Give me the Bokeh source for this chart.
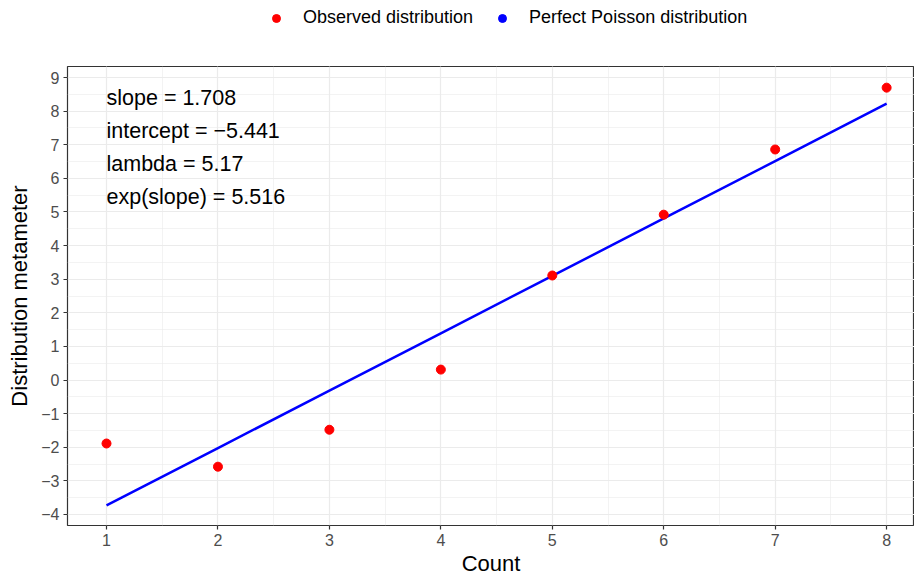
from bokeh.plotting import figure
from bokeh.layouts import column
from bokeh.models import (Range1d, SingleIntervalTicker, CustomJSTickFormatter,
                          Legend, LegendItem)
from bokeh.core.properties import value
from bokeh.embed import file_html
from bokeh.resources import INLINE

# Observed Poisson metameter per count, and the fitted line parameters
counts = [1, 2, 3, 4, 5, 6, 7, 8]
observed = [-1.89, -2.58, -1.48, 0.31, 3.11, 4.92, 6.86, 8.70]
slope = 1.708
intercept = -5.441
lam = 5.17
exp_slope = 5.516

series_labels = ["Observed distribution", "Perfect Poisson distribution"]
series_colors = ["red", "blue"]

fitted = [intercept + slope * c for c in counts]

FONT = "Liberation Sans"
MINUS = "\u2212"
W = 914
LEG_H = 65
MAIN_H = 578 - LEG_H

# ---- legend strip above the panel ----
leg = figure(width=W, height=LEG_H, x_range=Range1d(0, 1), y_range=Range1d(0, 1),
             x_axis_type=None, y_axis_type=None,
             output_backend="svg", toolbar_location=None,
             min_border=0)
leg.outline_line_color = None
leg.xgrid.visible = False
leg.ygrid.visible = False
# key renderers sit outside the strip's visible range; they only feed the legend
keys = [leg.scatter(x=[-10], y=[-10], size=9, fill_color=c, line_color=c)
        for c in series_colors]
legend = Legend(items=[LegendItem(label=l, renderers=[r]) for l, r in zip(series_labels, keys)],
                orientation="horizontal", location=(199, LEG_H - 28),
                padding=0, margin=0, spacing=19, label_standoff=17,
                glyph_width=20, glyph_height=20,
                border_line_color=None, background_fill_alpha=0,
                label_text_font=FONT, label_text_font_size="18px",
                label_text_color="black", label_text_baseline="middle")
leg.add_layout(legend, "center")

# ---- main panel ----
p = figure(width=W, height=MAIN_H,
           x_range=Range1d(0.65, 8.25), y_range=Range1d(-4.33, 9.33),
           output_backend="svg", toolbar_location=None,
           min_border_left=67, min_border_right=0,
           min_border_top=1, min_border_bottom=53)

p.background_fill_color = "white"
p.border_fill_color = "white"
p.outline_line_color = "#333333"
p.outline_line_width = 1.2

fmt = CustomJSTickFormatter(code="""
    return tick < 0 ? '\u2212' + Math.abs(tick) : String(tick);
""")

for ax, lab in ((p.xaxis[0], "Count"), (p.yaxis[0], "Distribution metameter")):
    ax.ticker = SingleIntervalTicker(interval=1, num_minor_ticks=2)
    ax.formatter = fmt
    ax.axis_line_color = None
    ax.major_tick_line_color = "#333333"
    ax.major_tick_line_width = 1.2
    ax.major_tick_in = 0
    ax.major_tick_out = 4
    ax.minor_tick_line_color = None
    ax.major_label_text_color = "#4D4D4D"
    ax.major_label_text_font = FONT
    ax.major_label_text_font_size = "16px"
    ax.major_label_standoff = 4
    ax.axis_label = lab
    ax.axis_label_text_font = FONT
    ax.axis_label_text_font_style = "normal"
    ax.axis_label_text_font_size = "22px"
    ax.axis_label_text_color = "black"
    ax.axis_label_standoff = 2

p.yaxis[0].axis_label_standoff = 6

for g in (p.xgrid[0], p.ygrid[0]):
    g.grid_line_color = "#EBEBEB"
    g.grid_line_width = 1.2
    g.minor_grid_line_color = "#EBEBEB"
    g.minor_grid_line_width = 0.6

# Fitted line, then observed points on top
p.line(counts, fitted, line_color=series_colors[1], line_width=2.5)
p.scatter(counts, observed, size=9, fill_color=series_colors[0], line_color=series_colors[0])

# Fit summary text block
ann_lines = [
    f"slope = {slope:.3f}",
    f"intercept = {intercept:.3f}".replace("-", MINUS),
    f"lambda = {lam}",
    f"exp(slope) = {exp_slope:.3f}",
]
ann_top = 8.38
ann_step = 0.98
ann_y = [ann_top - i * ann_step for i in range(len(ann_lines))]
p.text(x=[counts[0]] * len(ann_lines), y=ann_y, text=ann_lines,
       text_align="left", text_baseline="middle",
       text_font=value(FONT), text_font_size="21.5px", text_color="black")

open("out.html", "w").write(file_html(column(leg, p, spacing=0), INLINE))
